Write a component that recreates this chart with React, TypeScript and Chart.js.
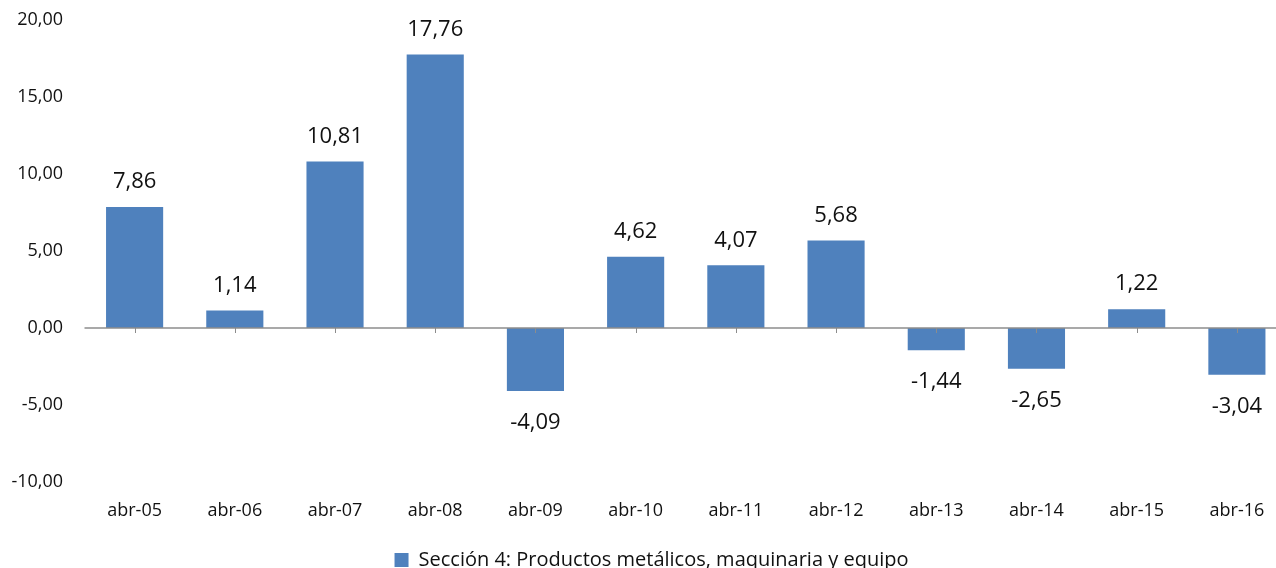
import React, { useEffect, useRef } from "react";
import { Chart, registerables } from "chart.js";

Chart.register(...registerables);

const categories = ["abr-05", "abr-06", "abr-07", "abr-08", "abr-09", "abr-10", "abr-11", "abr-12", "abr-13", "abr-14", "abr-15", "abr-16"];
const values = [7.86, 1.14, 10.81, 17.76, -4.09, 4.62, 4.07, 5.68, -1.44, -2.65, 1.22, -3.04];
const seriesLabel = "Sección 4: Productos metálicos, maquinaria y equipo";
const yMin = -10;
const yMax = 20;
const yStep = 5;

const FONT = "'Open Sans', 'Noto Sans', sans-serif";
const BAR_COLOR = "#4F81BD";

const fmt = (v: number) => v.toFixed(2).replace(".", ",");

const overlayPlugin = {
  id: "overlay",
  afterLayout(chart: any) {
    const lg = chart.legend;
    if (lg) {
      lg.left += 8;
      lg.right += 8;
    }
  },
  afterDatasetsDraw(chart: any) {
    const { ctx, chartArea, scales } = chart;
    const x = scales.x;
    const y = scales.y;
    const y0 = y.getPixelForValue(0);
    ctx.save();
    ctx.strokeStyle = "#8c8c8c";
    ctx.lineWidth = 1.5;
    ctx.beginPath();
    ctx.moveTo(chartArea.left, y0);
    ctx.lineTo(chartArea.right, y0);
    ctx.stroke();
    ctx.lineWidth = 1;
    for (let i = 0; i < categories.length; i++) {
      const px = Math.round(x.getPixelForValue(i)) + 0.5;
      ctx.beginPath();
      ctx.moveTo(px, y0);
      ctx.lineTo(px, y0 + 5);
      ctx.stroke();
    }
    const meta = chart.getDatasetMeta(0);
    ctx.fillStyle = "#111";
    ctx.font = `22px ${FONT}`;
    ctx.textAlign = "center";
    ctx.textBaseline = "middle";
    meta.data.forEach((bar: any, i: number) => {
      const v = values[i];
      const ty = v >= 0 ? bar.y - 25 : bar.y + 32;
      ctx.fillText(fmt(v), bar.x, ty);
    });
    ctx.restore();
  },
};

export default function App() {
  const ref = useRef<HTMLCanvasElement | null>(null);
  useEffect(() => {
    if (!ref.current) return;
    const chart = new Chart(ref.current, {
      type: "bar",
      data: {
        labels: categories,
        datasets: [
          {
            label: seriesLabel,
            data: values,
            backgroundColor: BAR_COLOR,
            borderWidth: 0,
            categoryPercentage: 1,
            barPercentage: 0.57,
          },
        ],
      },
      options: {
        responsive: false,
        animation: false,
        devicePixelRatio: 1,
        layout: { padding: { left: 0, right: 0, top: 20, bottom: 5 } },
        plugins: {
          legend: {
            position: "bottom",
            labels: {
              font: { family: FONT, size: 20 },
              color: "#111",
              boxWidth: 14,
              boxHeight: 14,
              padding: 10,
            },
          },
          tooltip: { enabled: false },
        },
        scales: {
          x: {
            grid: { display: false, drawTicks: false },
            border: { display: false },
            ticks: { font: { family: FONT, size: 18 }, color: "#111", padding: 18 },
            afterFit: (s: any) => {
              s.height = 58;
            },
          },
          y: {
            min: yMin,
            max: yMax,
            grid: { display: false, drawTicks: false },
            border: { display: false },
            ticks: {
              stepSize: yStep,
              font: { family: FONT, size: 18 },
              color: "#111",
              padding: 21.5,
              callback: (v: any) => fmt(Number(v)),
            },
            afterFit: (s: any) => {
              s.width = 84.5;
              s.paddingTop = 0;
              s.paddingBottom = 0;
            },
          },
        },
      },
      plugins: [overlayPlugin],
    });
    return () => chart.destroy();
  }, []);
  return (
    <div style={{ position: "fixed", left: 0, top: 0, width: 1287, height: 585, background: "#fff" }}>
      <canvas ref={ref} width={1287} height={585} style={{ display: "block" }} />
    </div>
  );
}
